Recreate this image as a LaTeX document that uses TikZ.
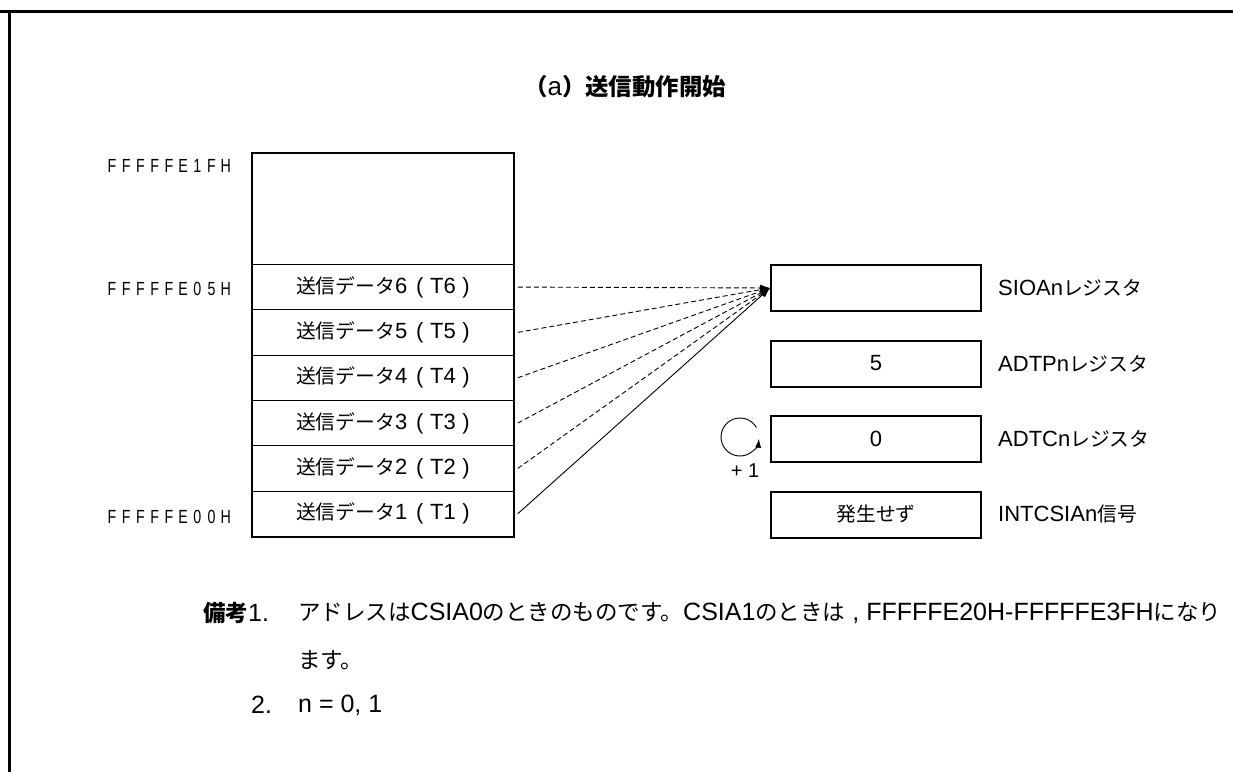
\documentclass[tikz,border=0pt]{standalone}
\usepackage{fontspec}
\usepackage{graphicx}
\setmainfont{Liberation Sans}
\newfontfamily\jp[Scale=0.9]{Noto Sans CJK JP}
\usetikzlibrary{arrows.meta}
\makeatletter
\newcommand\spacedaddr[1]{\@tfor\sp@c:=#1\do{\makebox[14.2pt]{\scalebox{0.75}[1]{\sp@c}}}}
\makeatother
\newcommand\tdata[1]{{\jp 送信データ}#1\hspace{0.4em}(\hspace{0.3em}T#1\hspace{0.3em})}
\begin{document}
\begin{tikzpicture}[x=1pt,y=-1pt,
  txt/.style={inner sep=0pt, font=\fontsize{20}{24}\selectfont},
  addr/.style={inner sep=0pt, anchor=east, font=\fontsize{19}{22}\selectfont},
  memrow/.style={draw, line width=0.8pt, minimum width=261pt, minimum height=45.33pt, inner sep=0pt, anchor=north west, font=\fontsize{22}{26}\selectfont},
  regbox/.style={draw, line width=2pt, minimum width=210pt, minimum height=46pt, inner sep=0pt, anchor=north west, font=\fontsize{22}{26}\selectfont},
  reglabel/.style={inner sep=0pt, anchor=west, font=\fontsize{22}{26}\selectfont},
  notetxt/.style={inner sep=0pt, anchor=west, font=\fontsize{25}{30}\selectfont},
  feed/.style={line width=0.9pt, -{Latex[length=10pt,width=7pt]}},
  feeddash/.style={feed, dash pattern=on 5pt off 3pt}
]
\useasboundingbox (0,0) rectangle (1233,772);
\clip (0,0) rectangle (1233,772);

% frame
\draw[line width=3pt] (0,11) -- (1233,11);
\draw[line width=3pt] (9,11) -- (9,772);

% title
\node[txt, font=\fontsize{26}{30}\selectfont] (title) at (625,87) {{\jp\bfseries （}a{\jp\bfseries ）送信動作開始}};

% memory
\node[memrow, minimum height=111pt] (top) at (252,153) {};
\node[memrow] (t6) at (252,264) {\tdata{6}};
\node[memrow] (t5) at (252,309.33) {\tdata{5}};
\node[memrow] (t4) at (252,354.67) {\tdata{4}};
\node[memrow] (t3) at (252,400) {\tdata{3}};
\node[memrow] (t2) at (252,445.33) {\tdata{2}};
\node[memrow] (t1) at (252,490.67) {\tdata{1}};
\draw[line width=2pt] (top.north west) rectangle (t1.south east);

% addresses
\node[addr] (a1f) at (233,166) {\spacedaddr{FFFFFE1FH}};
\node[addr] (a05) at (233,289) {\spacedaddr{FFFFFE05H}};
\node[addr] (a00) at (233,517) {\spacedaddr{FFFFFE00H}};

% registers
\node[regbox] (sio) at (770,264) {};
\node[regbox] (adtp) at (770,339.5) {5};
\node[regbox] (adtc) at (770,415) {0};
\node[regbox] (intc) at (770,490.5) {{\jp 発生せず}};
\node[reglabel] (siol) at ([xshift=16pt]sio.east) {SIOAn{\jp レジスタ}};
\node[reglabel] (adtpl) at ([xshift=16pt]adtp.east) {ADTPn{\jp レジスタ}};
\node[reglabel] (adtcl) at ([xshift=16pt]adtc.east) {ADTCn{\jp レジスタ}};
\node[reglabel] (intcl) at ([xshift=16pt]intc.east) {INTCSIAn{\jp 信号}};

% transfers
\draw[feeddash] ([xshift=4pt]t6.east) -- (sio.west);
\draw[feeddash] ([xshift=4pt]t5.east) -- (sio.west);
\draw[feeddash] ([xshift=4pt]t4.east) -- (sio.west);
\draw[feeddash] ([xshift=4pt]t3.east) -- (sio.west);
\draw[feeddash] ([xshift=4pt]t2.east) -- (sio.west);
\draw[feed] ([xshift=4pt]t1.east) -- (sio.west);

% increment
\coordinate (cyc) at (740,437);
\draw[line width=0.9pt, -{Latex[length=9pt,width=6pt]}] ([shift={(30:19pt)}]cyc) arc[start angle=30, end angle=355, radius=19pt];
\node[txt] (plus) at (745,471) {+ 1};

% notes
\node[notetxt] (bk) at (203,613) {{\jp\bfseries 備考}1.};
\node[notetxt] (n1) at (298,613) {{\jp アドレスは}CSIA0{\jp のときのものです。}CSIA1{\jp のときは} , FFFFFE20H-FFFFFE3FH{\jp になり}};
\node[notetxt] (n1b) at (298,660) {{\jp ます。}};
\node[notetxt] (n2a) at (251,705) {2.};
\node[notetxt] (n2) at (298,705) {n = 0, 1};
\end{tikzpicture}
\end{document}
